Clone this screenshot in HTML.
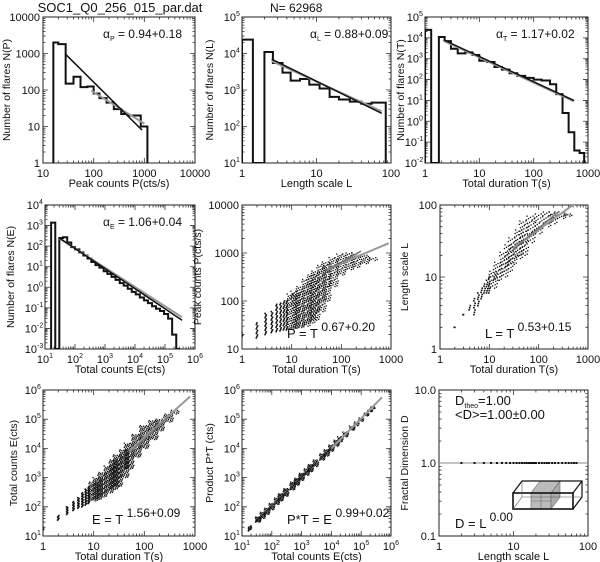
<!DOCTYPE html>
<html><head><meta charset="utf-8">
<style>
html,body{margin:0;padding:0;background:#fff;}
svg{display:block;font-family:"Liberation Sans",sans-serif;}
</style></head>
<body>
<svg id="fig" width="600" height="562" viewBox="0 0 600 562" xmlns="http://www.w3.org/2000/svg"></svg>
<script>
// ---------- data ----------
const p1Edges=[16,20,28,40,55,75,100,130,180,250,350,480,650,850,1150];
const p1Counts=[2000,1800,150,230,120,125,80,60,45,30,22,20,20,10];
const p1FitBlack=[[28,950],[900,8]];
const p1FitGray=[[90,95],[1000,12]];
const p2Edges=[1,1.4,2,2.6,3.5,4.5,6,8,11,15,20,28,40,55,85];
const p2Counts=[24000,10,11000,5500,3000,1800,2000,1400,1100,650,550,480,420,450];
const p2FitBlack=[[2.5,7000],[75,230]];
const p2FitGray=[[2.5,6200],[75,260]];
const p3Edges=[1,1.3,1.8,2.3,3,4,5.5,7.5,10,14,19,26,36,50,70,100,140,200,260,340,440,560,700,850];
const p3Counts=[24000,0.01,11000,7000,3000,1800,2000,1500,800,700,400,300,200,150,120,100,90,60,20,2.5,0.3,0.04,0.03];
const p3FitBlack=[[2.2,8000],[550,10]];
const p3FitGray=[[2.2,7200],[550,9]];
const p4Edges=[16,22,30,40,55,75,100,140,190,260,350,480,650,900,1200,1650,2250,3100,4200,5700,7800,10600,14500,20000,27000,37000,50000,68000,93000,127000,173000,237000,320000];
const p4Counts=[1400,0.001,250,270,150,90,70,50,35,25,17,12,9,6,4.5,3.2,2.3,1.6,1.2,0.85,0.6,0.45,0.32,0.23,0.17,0.12,0.09,0.07,0.05,0.03,0.005,0.001];
const p4FitBlack=[[30,250],[370000,0.025]];
const p4FitGray=[[30,240],[370000,0.035]];
const p5T=[1,2,3,4,5,6,7,8,10,12,15,20,25,30,40,50,70,100,150,200,300,450];
const p5Lo=[17,17,20,22,23,24,25,25,26,27,28,30,35,40,60,100,200,350,450,500,600,700];
const p5Hi=[22,35,55,60,85,90,100,110,140,160,200,280,350,420,550,650,800,950,1000,1000,900,800];
const p5FitGray=[[50,450],[900,1600]];
const p5FitBlack=[[50,420],[250,1100]];
const p6T=[2,3,4,5,6,7,8,9,10,12,15,20,25,30,40,50,70,100,150,200,300,400];
const p6Lo=[2,3,3.5,3,4,5,6,6,6,7,9,10,12,15,18,20,30,40,50,55,65,70];
const p6Hi=[2,3,4,5,6,7,8,9,10,12,16,22,28,35,45,60,70,75,80,80,80,75];
const p6FitGray=[[30,25],[600,110]];
const p6FitBlack=[[30,24],[250,80]];
const p7T=[1,2,3,4,5,6,7,8,10,12,15,20,25,30,40,50,70,100,150,200,300,400];
const p7Lo=[15,35,55,75,90,100,115,130,160,180,220,300,400,500,1000,2000,5000,10000,20000,40000,80000,150000];
const p7Hi=[20,50,100,150,220,300,400,500,700,1000,1500,2500,4000,6000,9000,15000,30000,60000,90000,100000,150000,200000];
const p7FitGray=[[50,8000],[800,600000]];
const p7FitBlack=[[50,7000],[300,120000]];
const p8E=[17,20,35,50,70,100,150,200,300,500,700,1000,1500,2000,3000,5000,7000,10000,15000,20000,30000,50000,70000,100000,150000,200000,250000];
const p8Lo=[15,17,30,40,55,80,120,160,230,380,550,800,1200,1600,2400,4000,5500,8000,12000,17000,25000,42000,60000,85000,130000,180000,230000];
const p8Hi=[20,22,45,65,90,130,200,280,420,700,950,1400,2000,2800,4000,6500,9000,13000,19000,25000,36000,58000,80000,110000,160000,220000,260000];
const p8FitGray=[[10000,10000],[500000,560000]];
const p9L=[2,3,4,5,6,7,8,9,10,11,12,13,14,15,16,17,18,19,20,22,24,26,28,30,33,36,40,45,50,55,60,65,70];
const p9D=[1,1,1,1,1,1,1,1,1,1,1,1,1,1,1,1,1,1,1,1,1,1,1,1,1,1,1,1,1,1,1,1,1];

// ---------- helpers ----------
const NS="http://www.w3.org/2000/svg";
const svg=document.getElementById('fig');
function el(tag,attrs,parent){const e=document.createElementNS(NS,tag);for(const k in attrs)e.setAttribute(k,attrs[k]);(parent||svg).appendChild(e);return e;}
const L10=Math.log10;

function makePanel(o){
  const g=el('g',{});
  
  
  const sx=v=>o.x0+(L10(v)-o.xl[0])/(o.xl[1]-o.xl[0])*(o.x1-o.x0);
  const sy=v=>o.y1-(L10(v)-o.yl[0])/(o.yl[1]-o.yl[0])*(o.y1-o.y0);
  const frame=el('rect',{x:o.x0,y:o.y0,width:o.x1-o.x0,height:o.y1-o.y0,fill:'none',stroke:'#222','stroke-width':1},g);
  
  
  let d='';
  for(let e=o.xl[0];e<o.xl[1];e++){for(let m=1;m<10;m++){const v=m*Math.pow(10,e);const x=sx(v);const len=m==1?5:2.5;if(m==1&&e==o.xl[0])continue;d+=`M${x},${o.y1}v${-len}M${x},${o.y0}v${len}`;}}
  for(let e=o.yl[0];e<o.yl[1];e++){for(let m=1;m<10;m++){const v=m*Math.pow(10,e);const y=sy(v);const len=m==1?5:2.5;if(m==1&&e==o.yl[0])continue;d+=`M${o.x0},${y}h${len}M${o.x1},${y}h${-len}`;}}
  el('path',{d:d,stroke:'#333','stroke-width':0.8,fill:'none'},g);
  function lab(v,fmt){
    if(fmt=='int')return [String(Math.round(Math.pow(10,v))),null];
    if(fmt=='dec1')return [Math.pow(10,v).toFixed(1),null];
    return ['10',String(v)];
  }
  const xg=el('g',{},g);
  
  
  for(let e=o.xl[0];e<=o.xl[1];e++){
    const [a,b]=lab(e,o.xf);const t=el('text',{x:sx(Math.pow(10,e)),y:o.y1+14,'font-size':11,'text-anchor':'middle',fill:'#111'},xg);
    t.textContent=a;if(b!==null){const s=el('tspan',{dy:-5,'font-size':7},t);s.textContent=b;}
  }
  const yg=el('g',{},g);
  
  
  for(let e=o.yl[0];e<=o.yl[1];e++){
    const [a,b]=lab(e,o.yf);const yy=sy(Math.pow(10,e))+4;
    if(b===null){const t=el('text',{x:o.x0-3,y:yy,'font-size':11,'text-anchor':'end',fill:'#111'},yg);t.textContent=a;}
    else{const off=b.length>1?6:4;const t=el('text',{x:o.x0-2-off,y:yy,'font-size':11,'text-anchor':'end',fill:'#111'},yg);t.textContent=a;
      const s=el('text',{x:o.x0-2-off,y:yy-5,'font-size':7,'text-anchor':'start',fill:'#111'},yg);s.textContent=b;}
  }
  const xt=el('text',{x:(o.x0+o.x1)/2,y:o.y1+24,'font-size':11,'text-anchor':'middle',fill:'#111'},g);
  xt.textContent=o.xt;
  
  
  const cy=(o.y0+o.y1)/2;
  const yt=el('text',{x:o.ytx,y:cy,'font-size':10.5,'text-anchor':'middle',fill:'#111',transform:`rotate(-90 ${o.ytx} ${cy})`},g);
  yt.textContent=o.yt;
  
  
  const cl=el('clipPath',{id:'c'+o.name},g);
  el('rect',{x:o.x0,y:o.y0,width:o.x1-o.x0,height:o.y1-o.y0},cl);
  const pg=el('g',{'clip-path':`url(#c${o.name})`},g);
  return {g,pg,sx,sy,o};
}
function hist(P,edges,counts){
  const ymin=Math.pow(10,P.o.yl[0]);
  const cv=v=>P.sy(Math.max(v,ymin));
  let d=`M${P.sx(edges[0])},${cv(ymin)}`;
  for(let i=0;i<counts.length;i++){d+=`L${P.sx(edges[i])},${cv(counts[i])}L${P.sx(edges[i+1])},${cv(counts[i])}`;}
  d+=`L${P.sx(edges[edges.length-1])},${cv(ymin)}`;
  const p=el('path',{d:d,fill:'none',stroke:'#111','stroke-width':2,'stroke-linejoin':'miter'},P.pg);
  
  
}
function fit(P,pts,color,w,name){
  const l=el('line',{x1:P.sx(pts[0][0]),y1:P.sy(pts[0][1]),x2:P.sx(pts[1][0]),y2:P.sy(pts[1][1]),stroke:color,'stroke-width':w},P.pg);
  
  
}
function bands(P,xs,lo,hi,spreadFrom){
  const sg=el('g',{fill:'#111'},P.pg);
  
  
  for(let i=0;i<xs.length;i++){
    const wide=xs[i]>=spreadFrom;
    const step=wide?0.05:0.03;
    const n=Math.max(1,Math.round((L10(hi[i])-L10(lo[i]))/step));
    const offs=wide?[-0.08,-0.04,0,0.04,0.08]:[0];
    offs.forEach((of,k)=>{
      for(let j=0;j<=n;j++){
        const y=lo[i]*Math.pow(hi[i]/lo[i],(j+(k%3)*0.33)/n);
        if(y>hi[i])continue;
        const sz=wide?1.3:1.6;
        el('rect',{x:P.sx(xs[i]*Math.pow(10,of+((j%3)-1)*0.012))-sz/2,y:P.sy(y)-sz/2,width:sz,height:sz},sg);
      }
    });
  }
}
function txt(x,y,s,size,name,anchor){const t=el('text',{x:x,y:y,'font-size':size,fill:'#111','text-anchor':anchor||'start'});t.textContent=s;return t;}
function powText(x,y,base,sup,name){
  const t=el('text',{x:x,y:y,'font-size':13,fill:'#111'});
  
  
  t.textContent=base;const s=el('tspan',{dy:-7,'font-size':12},t);s.textContent=sup;
}
function alpha(x,y,sub,val,name){
  const t=el('text',{x:x,y:y,'font-size':12,fill:'#111'});
  
  
  t.textContent='α';const s=el('tspan',{dy:3,'font-size':7},t);s.textContent=sub;
  const r=el('tspan',{dy:-3,'font-size':12},t);r.textContent=' =  '+val;
}

// ---------- titles ----------
txt(120,12,'SOC1_Q0_256_015_par.dat',13,'file-title','middle');
txt(270,12,'N= 62968',12,'sample-count-title','start');

// ---------- panels ----------
const P1=makePanel({name:'peak-count-histogram',x0:43,x1:195,y0:17,y1:163,xl:[1,4],yl:[0,4],xf:'int',yf:'int',xt:'Peak counts P(cts/s)',yt:'Number of flares N(P)',ytx:10});
hist(P1,p1Edges,p1Counts);fit(P1,p1FitGray,'#999',2,'fit-gray');fit(P1,p1FitBlack,'#111',1.5,'fit-black');
alpha(103,38,'P','0.94+0.18','alpha-p-label');

const P2=makePanel({name:'length-scale-histogram',x0:242,x1:391,y0:17,y1:163,xl:[0,2],yl:[1,5],xf:'int',yf:'exp',xt:'Length scale L',yt:'Number of flares N(L)',ytx:213});
hist(P2,p2Edges,p2Counts);fit(P2,p2FitGray,'#999',2,'fit-gray');fit(P2,p2FitBlack,'#111',1.5,'fit-black');
alpha(310,38,'L','0.88+0.09','alpha-l-label');

const P3=makePanel({name:'duration-histogram',x0:425,x1:588,y0:17,y1:163,xl:[0,3],yl:[-2,5],xf:'int',yf:'exp',xt:'Total duration  T(s)',yt:'Number of flares N(T)',ytx:404});
hist(P3,p3Edges,p3Counts);fit(P3,p3FitGray,'#999',2,'fit-gray');fit(P3,p3FitBlack,'#111',1.5,'fit-black');
alpha(496,38,'T','1.17+0.02','alpha-t-label');

const P4=makePanel({name:'total-counts-histogram',x0:45,x1:195,y0:205,y1:349,xl:[1,6],yl:[-3,4],xf:'exp',yf:'exp',xt:'Total counts  E(cts)',yt:'Number of flares N(E)',ytx:14});
hist(P4,p4Edges,p4Counts);fit(P4,p4FitGray,'#999',2,'fit-gray');fit(P4,p4FitBlack,'#111',1.5,'fit-black');
alpha(103,226,'E','1.06+0.04','alpha-e-label');

const P5=makePanel({name:'peak-vs-duration-scatter',x0:242,x1:391,y0:205,y1:349,xl:[0,3],yl:[1,4],xf:'int',yf:'int',xt:'Total duration  T(s)',yt:'Peak counts P(cts/s)',ytx:201});
bands(P5,p5T,p5Lo,p5Hi,10);fit(P5,p5FitGray,'#999',2,'fit-gray');fit(P5,p5FitBlack,'#777',1.5,'fit-black');
powText(287,338,'P = T ','0.67+0.20','power-law-p-t');

const P6=makePanel({name:'length-vs-duration-scatter',x0:440,x1:588,y0:205,y1:349,xl:[0,3],yl:[0,2],xf:'int',yf:'int',xt:'Total duration  T(s)',yt:'Length scale L',ytx:408});
bands(P6,p6T,p6Lo,p6Hi,12);fit(P6,p6FitGray,'#999',2,'fit-gray');fit(P6,p6FitBlack,'#777',1.5,'fit-black');
powText(485,338,'L = T ','0.53+0.15','power-law-l-t');

const P7=makePanel({name:'energy-vs-duration-scatter',x0:43,x1:195,y0:390,y1:536,xl:[0,3],yl:[1,6],xf:'int',yf:'exp',xt:'Total duration  T(s)',yt:'Total counts  E(cts)',ytx:17});
bands(P7,p7T,p7Lo,p7Hi,10);fit(P7,p7FitGray,'#999',2,'fit-gray');fit(P7,p7FitBlack,'#777',1.5,'fit-black');
powText(92,524,'E = T ','1.56+0.09','power-law-e-t');

const P8=makePanel({name:'product-vs-energy-scatter',x0:242,x1:391,y0:390,y1:536,xl:[1,6],yl:[1,6],xf:'exp',yf:'exp',xt:'Total counts  E(cts)',yt:'Product  P*T (cts)',ytx:213});
bands(P8,p8E,p8Lo,p8Hi,30);fit(P8,p8FitGray,'#999',2,'fit-gray');
powText(287,524,'P*T = E ','0.99+0.02','power-law-pt-e');

const P9=makePanel({name:'fractal-dimension-plot',x0:439,x1:588,y0:390,y1:536,xl:[0,2],yl:[-1,1],xf:'int',yf:'dec1',xt:'Length scale L',yt:'Fractal Dimension D',ytx:408});
const hl=el('line',{x1:P9.sx(1),x2:P9.sx(100),y1:P9.sy(1),y2:P9.sy(1),stroke:'#888','stroke-width':1},P9.pg);


const dg=el('g',{fill:'#111'},P9.pg);


for(let i=0;i<p9L.length;i++){el('rect',{x:P9.sx(p9L[i])-1,y:P9.sy(p9D[i])-1,width:2,height:2},dg);}
(function(){const t=el('text',{x:455,y:405,'font-size':13,fill:'#111'});t.textContent='D';const s=el('tspan',{dy:3,'font-size':7},t);s.textContent='theo';const r=el('tspan',{dy:-3,'font-size':13},t);r.textContent='=1.00';})();
txt(455,419,'<D>=1.00±0.00',13,'mean-d-label');
powText(455,528,'D = L ','0.00','power-law-d-l');
const bx=el('g',{fill:'none',stroke:'#111','stroke-width':1});


el('polygon',{points:'531,493 551,493 560,481 540,481',fill:'#bbb',stroke:'#666','stroke-width':0.6},bx);
el('rect',{x:531,y:493,width:20,height:16,fill:'#bbb',stroke:'#666','stroke-width':0.6},bx);
el('polygon',{points:'551,493 560,481 560,497 551,509',fill:'#aaa',stroke:'#666','stroke-width':0.6},bx);
el('line',{x1:541,y1:493,x2:541,y2:509,stroke:'#666','stroke-width':0.6},bx);
el('line',{x1:531,y1:501,x2:551,y2:501,stroke:'#666','stroke-width':0.6},bx);
el('rect',{x:513,y:493,width:60,height:16,'stroke-width':1.6},bx);
el('polyline',{points:'513,493 522,481 582,481 582,497 573,509','stroke-width':1.2},bx);
el('line',{x1:573,y1:493,x2:582,y2:481,'stroke-width':1.2},bx);
el('polyline',{points:'522,481 522,497 513,509',stroke:'#555','stroke-width':0.6},bx);
el('line',{x1:522,y1:497,x2:582,y2:497,stroke:'#555','stroke-width':0.6},bx);
</script>
</body></html>
